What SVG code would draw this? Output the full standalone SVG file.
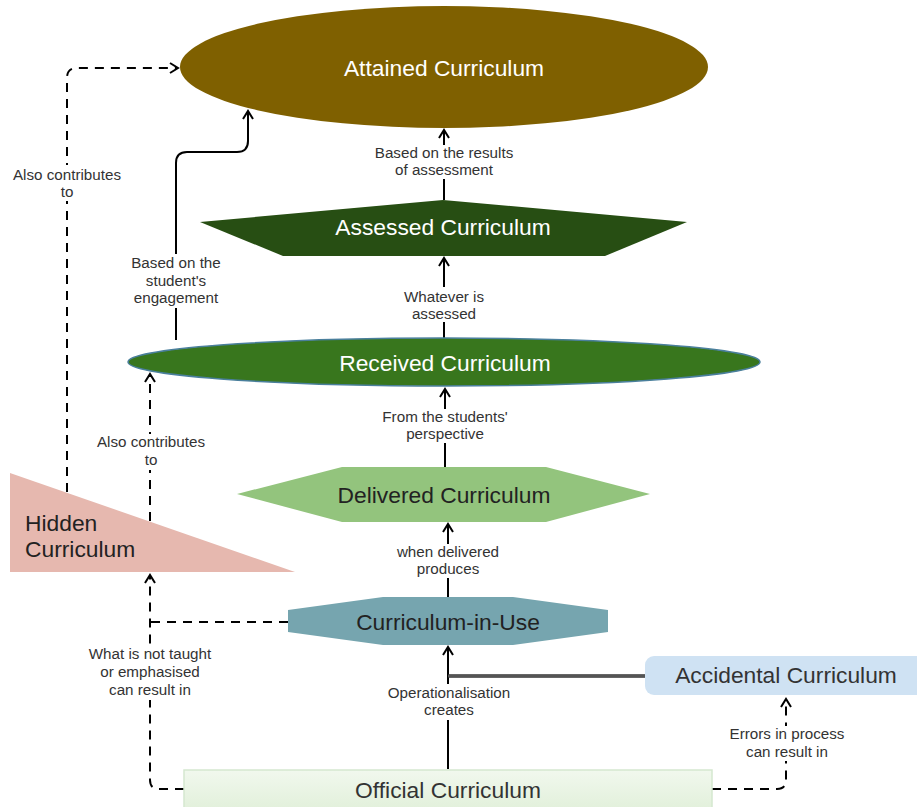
<svg xmlns="http://www.w3.org/2000/svg" width="917" height="807" viewBox="0 0 917 807">
<defs>
<style>
.node{font-family:"Liberation Sans",Arial,sans-serif;font-size:22.8px;text-anchor:middle}
.lbl{font-family:"Liberation Sans",Arial,sans-serif;font-size:15.2px;fill:#333;text-anchor:middle}
.sol{fill:none;stroke:#000;stroke-width:2}
.dash{fill:none;stroke:#000;stroke-width:2;stroke-dasharray:9 7}
.bg{fill:#fff}
</style>
<marker id="arr" markerWidth="14" markerHeight="14" refX="0" refY="0" viewBox="-10 -7 12 14" orient="auto" markerUnits="userSpaceOnUse">
<path d="M-8,-5 L0,0 L-8,5" fill="none" stroke="#000" stroke-width="2"/>
</marker>
<linearGradient id="offg" x1="0" y1="0" x2="0" y2="1">
<stop offset="0" stop-color="#f1f8ee"/>
<stop offset="1" stop-color="#e0efd8"/>
</linearGradient>
</defs>
<rect width="917" height="807" fill="#fff"/>

<g id="connectors">
<path class="sol" d="M448 769 V647" marker-end="url(#arr)"/>
<path d="M645 676 H448" fill="none" stroke="#333" stroke-width="3.5"/>
<path d="M645 676 H448" fill="none" stroke="#777" stroke-width="1"/>
<path class="sol" d="M448 597 V524" marker-end="url(#arr)"/>
<path class="sol" d="M445 467 V389" marker-end="url(#arr)"/>
<path class="sol" d="M444 338 V258" marker-end="url(#arr)"/>
<path class="sol" d="M444 200 V130" marker-end="url(#arr)"/>
<path class="sol" d="M176 340 V163 Q176 152 187 152 H237 Q248 152 248 141 V111" marker-end="url(#arr)"/>
<path class="dash" d="M67 492 V78 Q67 68 77 68 H178" marker-end="url(#arr)"/>
<path class="dash" d="M150 521 V374" marker-end="url(#arr)"/>
<path class="dash" d="M288 622 H150"/>
<path class="dash" d="M184 789 H159 Q150 789 150 780 V575" marker-end="url(#arr)"/>
<path class="dash" d="M712 789 H777 Q786 789 786 780 V699" marker-end="url(#arr)"/>
</g>

<g id="labels">
<rect class="bg" x="370" y="145" width="150" height="34"/>
<text class="lbl" x="444" y="158">Based on the results</text>
<text class="lbl" x="444" y="175">of assessment</text>
<rect class="bg" x="398" y="287" width="92" height="35"/>
<text class="lbl" x="444" y="302">Whatever is</text>
<text class="lbl" x="444" y="319">assessed</text>
<rect class="bg" x="126" y="254" width="100" height="54"/>
<text class="lbl" x="176" y="268">Based on the</text>
<text class="lbl" x="176" y="286">student's</text>
<text class="lbl" x="176" y="303">engagement</text>
<rect class="bg" x="8" y="165" width="120" height="36"/>
<text class="lbl" x="67" y="180">Also contributes</text>
<text class="lbl" x="67" y="197">to</text>
<rect class="bg" x="92" y="434" width="118" height="36"/>
<text class="lbl" x="151" y="447">Also contributes</text>
<text class="lbl" x="151" y="465">to</text>
<rect class="bg" x="378" y="409" width="134" height="34"/>
<text class="lbl" x="445" y="422">From the students'</text>
<text class="lbl" x="445" y="439">perspective</text>
<rect class="bg" x="391" y="544" width="115" height="34"/>
<text class="lbl" x="448" y="557">when delivered</text>
<text class="lbl" x="448" y="574">produces</text>
<rect class="bg" x="84" y="645" width="132" height="55"/>
<text class="lbl" x="150" y="659">What is not taught</text>
<text class="lbl" x="150" y="677">or emphasised</text>
<text class="lbl" x="150" y="695">can result in</text>
<rect class="bg" x="382" y="684" width="134" height="36"/>
<text class="lbl" x="449" y="698">Operationalisation</text>
<text class="lbl" x="449" y="715">creates</text>
<rect class="bg" x="725" y="726" width="125" height="35"/>
<text class="lbl" x="787" y="739">Errors in process</text>
<text class="lbl" x="787" y="757">can result in</text>
</g>

<g id="attained">
<ellipse cx="444" cy="67" rx="264" ry="61" fill="#7f6000"/>
<text class="node" x="444" y="76" fill="#fff">Attained Curriculum</text>
</g>
<g id="assessed">
<polygon points="200,222 443,200 687,222 605,256 283,256" fill="#274e13"/>
<text class="node" x="443" y="235" fill="#fff">Assessed Curriculum</text>
</g>
<g id="received">
<ellipse cx="444" cy="362" rx="316" ry="24" fill="#38761d" stroke="#4a7f9c" stroke-width="1.5"/>
<text class="node" x="445" y="371" fill="#fff">Received Curriculum</text>
</g>
<g id="delivered">
<polygon points="237,494 342,467 546,467 650,494 546,522 342,522" fill="#93c47d"/>
<text class="node" x="444" y="503" fill="#222">Delivered Curriculum</text>
</g>
<g id="hidden">
<polygon points="10,473 10,572 295,572" fill="#e6b8af"/>
<text class="node" x="25" y="531" fill="#222" style="text-anchor:start">Hidden</text>
<text class="node" x="25" y="557" fill="#222" style="text-anchor:start">Curriculum</text>
</g>
<g id="curriculum-in-use">
<polygon points="288,610 383,597 513,597 608,610 608,632 513,645 383,645 288,632" fill="#76a5af"/>
<text class="node" x="448" y="630" fill="#222">Curriculum-in-Use</text>
</g>
<g id="accidental">
<rect x="645" y="656" width="290" height="39" rx="9" fill="#cfe2f3"/>
<text class="node" x="786" y="683" fill="#333">Accidental Curriculum</text>
</g>
<g id="official">
<rect x="184" y="770" width="528" height="45" fill="url(#offg)" stroke="#d5e8cf" stroke-width="1.5"/>
<text class="node" x="448" y="798" fill="#333">Official Curriculum</text>
</g>
</svg>
